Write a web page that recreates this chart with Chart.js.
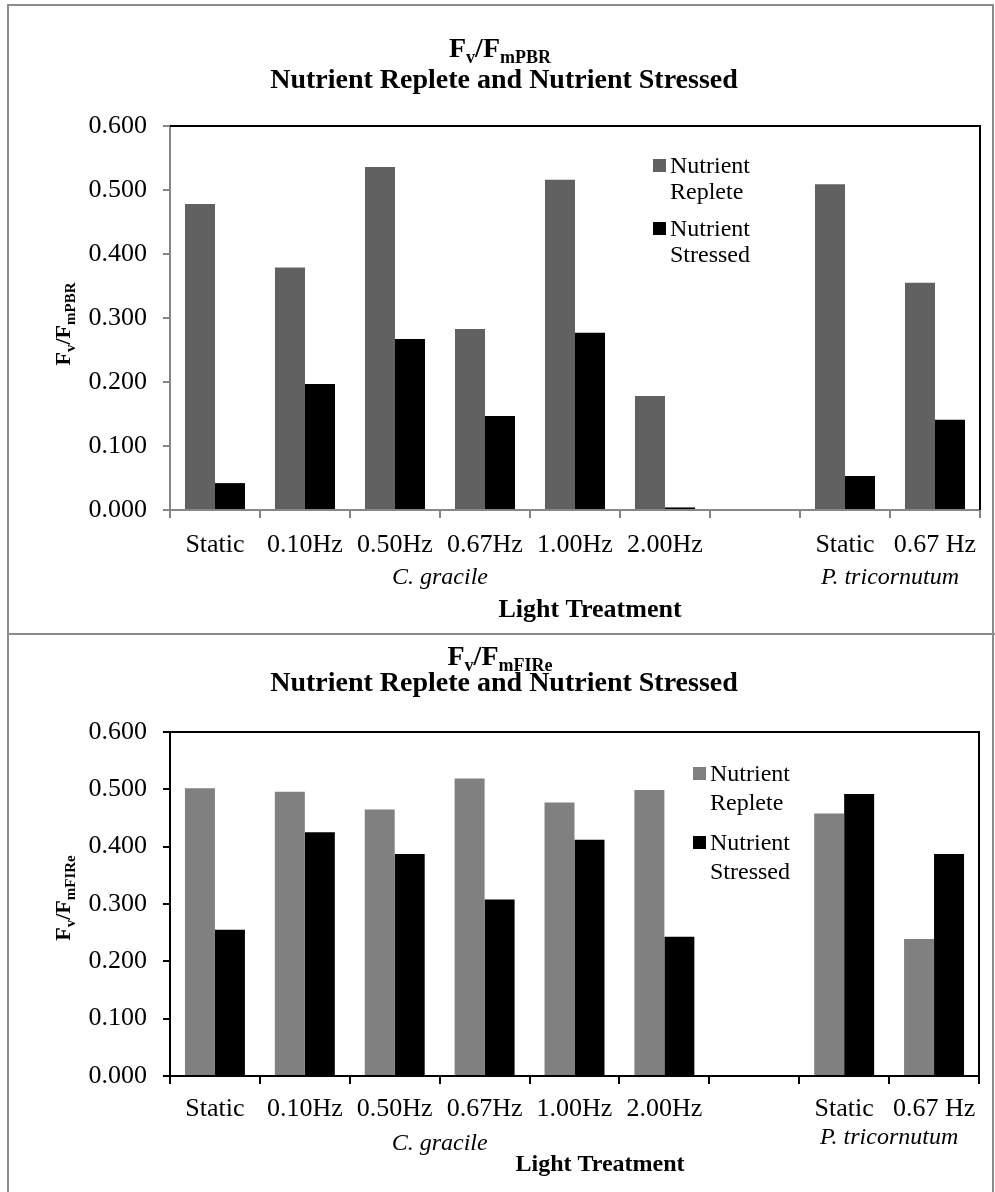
<!DOCTYPE html>
<html>
<head>
<meta charset="utf-8">
<script src="https://cdn.jsdelivr.net/npm/chart.js@4.4.1/dist/chart.umd.min.js"></script>
<style>
body { margin: 0; background: #fff; }
#page { position: relative; width: 995px; height: 1192px; overflow: hidden; }
canvas { position: absolute; left: 0; }
#c1 { top: 0; }
#c2 { top: 634px; }
.frame { position: absolute; left: 7px; top: 4px; width: 987px; height: 1220px; border: 2px solid #8c8c8c; box-sizing: border-box; pointer-events: none; }
.divider { position: absolute; left: 7px; top: 633px; width: 988px; height: 2px; background: #8c8c8c; }
</style>
</head>
<body>
<div id="page">
  <canvas id="c1" width="995" height="634"></canvas>
  <canvas id="c2" width="995" height="558"></canvas>
  <div class="frame"></div>
  <div class="divider"></div>
</div>
<script>
// data
const categories = ['Static', '0.10Hz', '0.50Hz', '0.67Hz', '1.00Hz', '2.00Hz', '', 'Static', '0.67 Hz'];
const seriesNames = ['Nutrient Replete', 'Nutrient Stressed'];
const pbrReplete  = [0.478, 0.379, 0.536, 0.283, 0.516, 0.178, null, 0.509, 0.355];
const pbrStressed = [0.042, 0.197, 0.267, 0.147, 0.277, 0.004, null, 0.053, 0.141];
const fireReplete  = [0.502, 0.496, 0.465, 0.519, 0.477, 0.499, null, 0.458, 0.239];
const fireStressed = [0.255, 0.425, 0.387, 0.308, 0.412, 0.243, null, 0.492, 0.387];
const yMin = 0, yMax = 0.6, yStep = 0.1;
const speciesGroups = [
  { text: 'C. gracile', from: 0, to: 5 },
  { text: 'P. tricornutum', from: 7, to: 8 }
];

const SERIF = '"Liberation Serif", "Times New Roman", serif';
Chart.defaults.font.family = SERIF;
Chart.defaults.color = '#000';

// text with subscripts: parts = [[text, isSub], ...]
function drawRich(ctx, parts, x, y, size, align) {
  const subSize = Math.round(size * 0.66);
  let total = 0;
  parts.forEach(p => {
    ctx.font = 'bold ' + (p[1] ? subSize : size) + 'px ' + SERIF;
    total += ctx.measureText(p[0]).width;
  });
  let cx = align === 'center' ? x - total / 2 : x;
  ctx.textAlign = 'left';
  ctx.textBaseline = 'alphabetic';
  parts.forEach(p => {
    ctx.font = 'bold ' + (p[1] ? subSize : size) + 'px ' + SERIF;
    ctx.fillText(p[0], cx, y + (p[1] ? size * 0.22 : 0));
    cx += ctx.measureText(p[0]).width;
  });
}

const textPlugin = {
  id: 'texts',
  afterDraw(chart, args, o) {
    const ctx = chart.ctx, area = chart.chartArea, xs = chart.scales.x;
    ctx.save();
    // top and right edge of plot area
    ctx.strokeStyle = o.frameColor;
    ctx.lineWidth = 2;
    ctx.beginPath();
    ctx.moveTo(area.left, area.top);
    ctx.lineTo(area.right, area.top);
    ctx.lineTo(area.right, area.bottom);
    ctx.stroke();

    ctx.fillStyle = '#000';
    // titles
    drawRich(ctx, o.title, 500, o.titleY[0], 28, 'center');
    ctx.font = 'bold 28px ' + SERIF;
    ctx.textAlign = 'center';
    ctx.fillText('Nutrient Replete and Nutrient Stressed', 504, o.titleY[1]);

    // y axis title
    ctx.save();
    ctx.translate(o.yTitleX, (area.top + area.bottom) / 2 + o.yTitleShift);
    ctx.rotate(-Math.PI / 2);
    drawRich(ctx, o.yTitle, 0, 0, 22, 'center');
    ctx.restore();

    // species group labels
    ctx.font = 'italic 24px ' + SERIF;
    ctx.textAlign = 'center';
    ctx.textBaseline = 'middle';
    speciesGroups.forEach((g, i) => {
      const cx = (xs.getPixelForValue(g.from) + xs.getPixelForValue(g.to)) / 2;
      ctx.fillText(g.text, cx, o.groupY[i]);
    });

    // x axis title
    ctx.font = 'bold ' + o.xTitleSize + 'px ' + SERIF;
    ctx.fillText('Light Treatment', o.xTitleX, o.xTitleY);

    // legend
    ctx.font = '24px ' + SERIF;
    ctx.textAlign = 'left';
    chart.data.datasets.forEach((ds, i) => {
      const top = area.top + o.legend.top + i * o.legend.itemGap;
      const left = area.left + o.legend.left;
      ctx.fillStyle = ds.backgroundColor;
      ctx.fillRect(left, top, 13, 13);
      ctx.fillStyle = '#000';
      ds.label.split(' ').forEach((w, j) => {
        ctx.fillText(w, left + 17, top + 8 + j * o.legend.lineGap);
      });
    });
    ctx.restore();
  }
};

function makeChart(id, replete, stressed, s) {
  return new Chart(document.getElementById(id), {
    type: 'bar',
    data: {
      labels: categories,
      datasets: [
        { label: seriesNames[0], data: replete, backgroundColor: s.gray },
        { label: seriesNames[1], data: stressed, backgroundColor: '#000' }
      ]
    },
    options: {
      responsive: false,
      animation: false,
      events: [],
      layout: { padding: { left: 0, right: s.padRight, top: s.padTop, bottom: 0 } },
      datasets: { bar: { barPercentage: 1, categoryPercentage: 0.667 } },
      plugins: {
        legend: { display: false },
        tooltip: { enabled: false },
        texts: s.texts
      },
      scales: {
        x: {
          afterFit(scale) { scale.height = s.xHeight; },
          grid: { display: true, drawOnChartArea: false, drawTicks: true, tickLength: 8, color: s.axisColor, lineWidth: 2, offset: true },
          border: { display: true, color: s.axisColor, width: 2 },
          ticks: { autoSkip: false, maxRotation: 0, padding: s.xPad, font: { size: 26 }, color: '#000' }
        },
        y: {
          min: yMin, max: yMax,
          afterFit(scale) { scale.width = 170; },
          grid: { display: true, drawOnChartArea: false, drawTicks: true, tickLength: 7, color: s.axisColor, lineWidth: 2 },
          border: { display: true, color: s.axisColor, width: 2 },
          ticks: { stepSize: yStep, padding: 16, font: { size: 26 }, color: '#000', callback: v => v.toFixed(3) }
        }
      }
    },
    plugins: [textPlugin]
  });
}

makeChart('c1', pbrReplete, pbrStressed, {
  gray: '#616161', axisColor: '#878787', padRight: 15, padTop: 126, xHeight: 124, xPad: 12,
  texts: {
    frameColor: '#000',
    title: [['F', false], ['v', true], ['/F', false], ['mPBR', true]],
    titleY: [57, 88],
    yTitle: [['F', false], ['v', true], ['/F', false], ['mPBR', true]],
    yTitleX: 70, yTitleShift: 6,
    groupY: [578, 578],
    xTitleX: 590, xTitleY: 610, xTitleSize: 26,
    legend: { left: 483, top: 33, itemGap: 63, lineGap: 26 }
  }
});

makeChart('c2', fireReplete, fireStressed, {
  gray: '#808080', axisColor: '#000', padRight: 16, padTop: 98, xHeight: 116, xPad: 10,
  texts: {
    frameColor: '#000',
    title: [['F', false], ['v', true], ['/F', false], ['mFIRe', true]],
    titleY: [31, 57],
    yTitle: [['F', false], ['v', true], ['/F', false], ['mFIRe', true]],
    yTitleX: 70, yTitleShift: -6,
    groupY: [510, 504],
    xTitleX: 600, xTitleY: 531, xTitleSize: 24,
    legend: { left: 523, top: 35, itemGap: 69, lineGap: 29 }
  }
});
</script>
</body>
</html>
